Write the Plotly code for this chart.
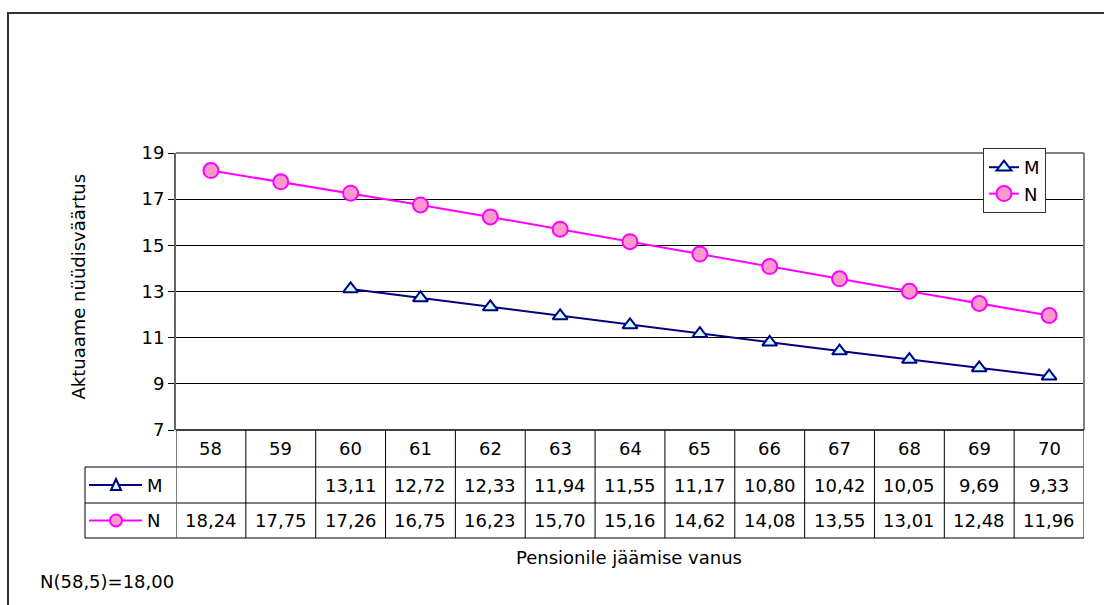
import plotly.graph_objects as go

ages = [58, 59, 60, 61, 62, 63, 64, 65, 66, 67, 68, 69, 70]
m_values = [None, None, 13.11, 12.72, 12.33, 11.94, 11.55, 11.17, 10.80, 10.42, 10.05, 9.69, 9.33]
n_values = [18.24, 17.75, 17.26, 16.75, 16.23, 15.70, 15.16, 14.62, 14.08, 13.55, 13.01, 12.48, 11.96]
y_ticks = [7, 9, 11, 13, 15, 17, 19]
series_names = ["M", "N"]
x_title = "Pensionile jäämise vanus"
y_title = "Aktuaame nüüdisväärtus"
note_text = "N(58,5)=18,00"

W, H = 1104, 605
FONT = "DejaVu Sans, Liberation Sans, Arial, sans-serif"
FS = 18

def px(x):
    return x / W

def py(y):
    return 1 - y / H

PL, PR, PT, PB = 176, 1084, 153, 430
ROW1, ROW2, ROW3 = 467, 503, 538
LEG_L = 85

M_LINE = "#000080"
M_FILL = "#CCFFFF"
N_LINE = "#FF00FF"
N_FILL = "#FF99CC"

fig = go.Figure()
fig.add_trace(go.Scatter(
    x=ages, y=m_values, name=series_names[0], mode="lines+markers",
    line=dict(color=M_LINE, width=2),
    marker=dict(symbol="triangle-up", size=13, color=M_FILL, line=dict(color=M_LINE, width=2)),
    connectgaps=False,
))
fig.add_trace(go.Scatter(
    x=ages, y=n_values, name=series_names[1], mode="lines+markers",
    line=dict(color=N_LINE, width=2),
    marker=dict(symbol="circle", size=15, color=N_FILL, line=dict(color=N_LINE, width=2)),
))

shapes = []
annotations = []

# outer border
shapes.append(dict(type="rect", xref="paper", yref="paper", x0=px(8), x1=px(1112), y0=py(620), y1=py(13),
                   line=dict(color="#333333", width=2), layer="below"))
# plot frame: top/right gray
shapes.append(dict(type="line", xref="paper", yref="paper", x0=px(PL), x1=px(PR), y0=py(PT), y1=py(PT),
                   line=dict(color="#808080", width=2)))
shapes.append(dict(type="line", xref="paper", yref="paper", x0=px(PR), x1=px(PR), y0=py(PT), y1=py(PB),
                   line=dict(color="#808080", width=2)))

def fmt(v):
    return "" if v is None else f"{v:.2f}".replace(".", ",")

# table grid
tc = "#000000"
shapes.append(dict(type="line", xref="paper", yref="paper", x0=px(PL), x1=px(PR), y0=py(PB), y1=py(PB),
                   line=dict(color=tc, width=1.5)))
for yy in (ROW1, ROW2):
    shapes.append(dict(type="line", xref="paper", yref="paper", x0=px(LEG_L), x1=px(PR), y0=py(yy), y1=py(yy),
                       line=dict(color=tc, width=1)))
shapes.append(dict(type="line", xref="paper", yref="paper", x0=px(LEG_L), x1=px(PR), y0=py(ROW3), y1=py(ROW3),
                   line=dict(color="#555555", width=1.5)))
shapes.append(dict(type="line", xref="paper", yref="paper", x0=px(LEG_L), x1=px(LEG_L), y0=py(ROW1), y1=py(ROW3),
                   line=dict(color=tc, width=1)))
for i in range(len(ages) + 1):
    xb = ages[0] - 0.5 + i
    shapes.append(dict(type="line", xref="x", yref="paper", x0=xb, x1=xb, y0=py(PB), y1=py(ROW3),
                       line=dict(color=tc if 0 < i < len(ages) else "#555555", width=1 if 0 < i < len(ages) else 1.5)))

cell_font = dict(family=FONT, size=FS, color="black")
for a, mv, nv in zip(ages, m_values, n_values):
    annotations.append(dict(x=a, y=py((PB + ROW1) / 2), xref="x", yref="paper", text=str(a),
                            showarrow=False, font=cell_font, yanchor="middle"))
    annotations.append(dict(x=a, y=py((ROW1 + ROW2) / 2), xref="x", yref="paper", text=fmt(mv),
                            showarrow=False, font=cell_font, yanchor="middle"))
    annotations.append(dict(x=a, y=py((ROW2 + ROW3) / 2), xref="x", yref="paper", text=fmt(nv),
                            showarrow=False, font=cell_font, yanchor="middle"))

# legend keys in the table
for yy, name, lc, fc, kind in (((ROW1 + ROW2) / 2, series_names[0], M_LINE, M_FILL, "tri"),
                               ((ROW2 + ROW3) / 2, series_names[1], N_LINE, N_FILL, "circ")):
    shapes.append(dict(type="line", xref="paper", yref="paper", x0=px(89), x1=px(142), y0=py(yy), y1=py(yy),
                       line=dict(color=lc, width=2)))
    cx = 116
    if kind == "tri":
        path = f"M {px(cx-5)},{py(yy+5)} L {px(cx+5)},{py(yy+5)} L {px(cx)},{py(yy-6)} Z"
        shapes.append(dict(type="path", xref="paper", yref="paper", path=path, fillcolor=fc,
                           line=dict(color=lc, width=2)))
    else:
        shapes.append(dict(type="circle", xref="paper", yref="paper", x0=px(cx-6), x1=px(cx+6),
                           y0=py(yy+6), y1=py(yy-6), fillcolor=fc, line=dict(color=lc, width=2)))
    annotations.append(dict(x=px(145), y=py(yy), xref="paper", yref="paper", text=name, showarrow=False,
                            xanchor="left", yanchor="middle", font=cell_font))

# titles
annotations.append(dict(x=px(629), y=py(557), xref="paper", yref="paper", text=x_title,
                        showarrow=False, font=cell_font, yanchor="middle"))
annotations.append(dict(x=px(65), y=py(287), xref="paper", yref="paper", text=y_title,
                        showarrow=False, textangle=-90, font=cell_font, yanchor="middle"))
annotations.append(dict(x=px(38), y=py(581), xref="paper", yref="paper", text=note_text,
                        showarrow=False, xanchor="left", yanchor="middle", font=cell_font))

fig.update_layout(
    width=W, height=H,
    margin=dict(l=0, r=0, t=0, b=0, pad=0),
    paper_bgcolor="white", plot_bgcolor="white",
    font=dict(family=FONT, size=FS, color="black"),
    showlegend=True,
    legend=dict(x=px(983), y=py(148), xanchor="left", yanchor="top",
                bgcolor="white", bordercolor="#333333", borderwidth=1,
                font=dict(family=FONT, size=FS, color="black"),
                tracegroupgap=0, itemwidth=30, entrywidth=60, entrywidthmode="pixels"),
    xaxis=dict(domain=[px(PL), px(PR)], range=[ages[0] - 0.5, ages[-1] + 0.5],
               showticklabels=False, showgrid=False, zeroline=False, showline=False, ticks="",
               automargin=False),
    yaxis=dict(domain=[py(PB), py(PT)], range=[y_ticks[0], y_ticks[-1]], tickvals=y_ticks,
               ticks="outside", ticklen=6, tickcolor="black", tickfont=dict(size=FS, family=FONT),
               showgrid=True, gridcolor="black", gridwidth=1, zeroline=False,
               showline=True, linecolor="#666666", linewidth=2, automargin=False),
    shapes=shapes,
    annotations=annotations,
)

fig.write_html("out.html", config={"displayModeBar": False},
               post_script="document.body.style.margin='0';document.body.style.overflow='hidden';")
